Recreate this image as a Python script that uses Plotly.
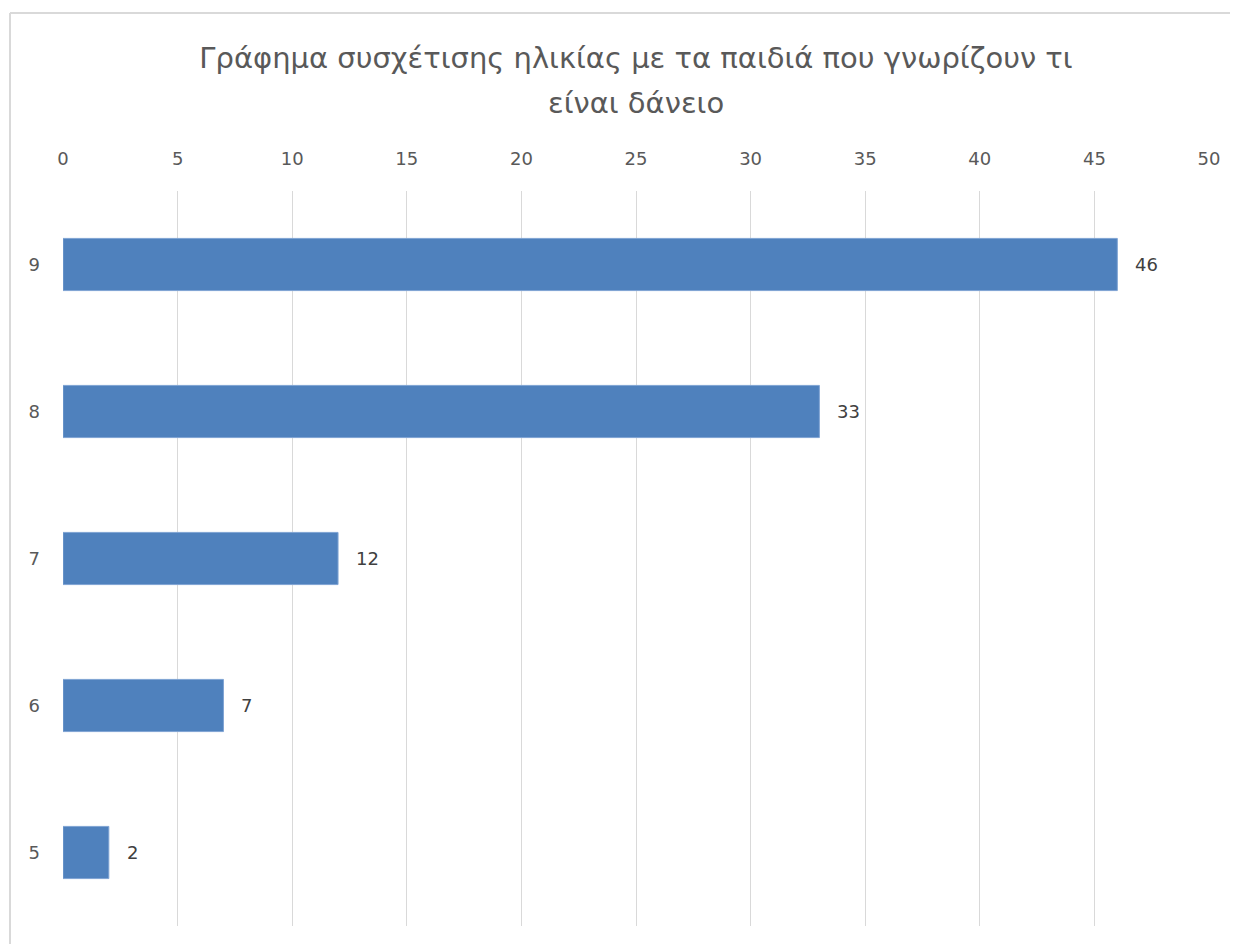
import plotly.graph_objects as go

ages = ["5", "6", "7", "8", "9"]
counts = [2, 7, 12, 33, 46]
x_ticks = [0, 5, 10, 15, 20, 25, 30, 35, 40, 45, 50]
title_line1 = "Γράφημα συσχέτισης ηλικίας με τα παιδιά που γνωρίζουν τι"
title_line2 = "είναι δάνειο"

# page body has an 8px margin, so the figure is sized / offset accordingly
W, H = 1230, 936
L, R, T, B = 55, 29, 183, 18
pw, ph = W - L - R, H - T - B

def px_x(x):
    return (x - L) / pw

def px_y(y):
    return (H - B - y) / ph

FONT = "DejaVu Sans, sans-serif"
GREY = "#595959"
TSIZE = 29

fig = go.Figure(go.Bar(
    y=ages, x=counts, orientation="h",
    marker=dict(color="#4F81BD", line=dict(color="#7FA3D3", width=1)),
    width=0.355,
    hoverinfo="x+y",
))

# data labels (category axis positions are indices into the category array)
for i, c in enumerate(counts):
    fig.add_annotation(x=c, y=i, xref="x", yref="y", text=str(c),
                       showarrow=False, xanchor="left", yanchor="middle",
                       xshift=16, font=dict(family=FONT, size=18, color="#404040"))

fig.add_annotation(x=0.5, y=px_y(95), xref="paper", yref="paper", text=title_line2,
                   showarrow=False, xanchor="center", yanchor="middle",
                   font=dict(family=FONT, size=TSIZE, color=GREY))

fig.update_layout(
    width=W, height=H,
    margin=dict(l=L, r=R, t=T, b=B),
    paper_bgcolor="white", plot_bgcolor="white",
    showlegend=False,
    title=dict(text=title_line1, x=0.5, xref="paper", xanchor="center",
               y=1 - 50 / H, yref="container", yanchor="middle",
               font=dict(family=FONT, size=TSIZE, color=GREY)),
    xaxis=dict(range=[0, 50], tickvals=x_ticks, side="top", showgrid=True,
               gridcolor="#D9D9D9", gridwidth=1, zeroline=False, showline=False,
               ticks="", ticklabelstandoff=21,
               tickfont=dict(family=FONT, size=18, color=GREY)),
    yaxis=dict(type="category", categoryorder="array", categoryarray=ages,
               range=[-0.5, 4.5],
               showgrid=False, zeroline=False, showline=False, ticks="",
               ticklabelstandoff=22,
               tickfont=dict(family=FONT, size=18, color=GREY)),
)

border = dict(color="#D9D9D9", width=2)
fig.add_shape(type="line", xref="paper", yref="paper",
              x0=px_x(2), x1=px_x(W + 5), y0=px_y(5), y1=px_y(5), line=border)
fig.add_shape(type="line", xref="paper", yref="paper",
              x0=px_x(2), x1=px_x(2), y0=px_y(5), y1=px_y(H + 5), line=border)

fig.write_html("out.html")
